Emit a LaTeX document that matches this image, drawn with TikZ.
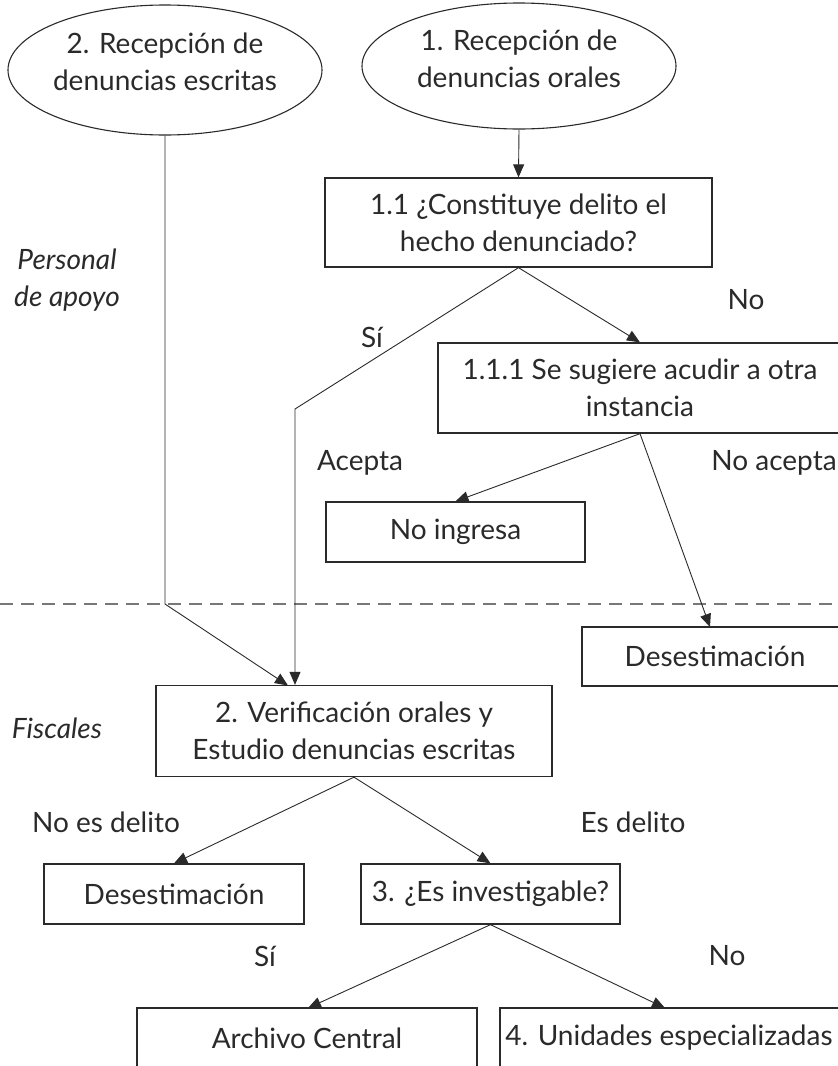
\documentclass[tikz,border=0pt]{standalone}
\usepackage{fontspec}
\setmainfont{Lato}
\usetikzlibrary{arrows.meta,shapes.geometric}
\definecolor{ink}{HTML}{2A2A2A}
\definecolor{dashgray}{HTML}{777777}
\tikzset{
  txt/.style={font=\fontsize{28}{37}\selectfont, text=ink, align=center, inner sep=0pt},
  ell/.style={txt, draw=ink, line width=1.1pt, ellipse, minimum width=314pt, minimum height=130pt},
  box/.style={txt, draw=ink, line width=1.3pt, rectangle, minimum height=#1},
  box/.default=90pt,
  conn/.style={draw=ink, line width=0.9pt},
  arr/.style={conn, -{Triangle[length=13pt,width=11pt]}},
  lbl/.style={txt},
  side/.style={txt, font=\fontsize{28}{37}\selectfont\itshape},
}
\begin{document}
\begin{tikzpicture}[x=1pt,y=-1pt]
\useasboundingbox (0,0) rectangle (838,1066);
\clip (0,0) rectangle (838,1066);
% ellipses
\node[ell] (eL) at (165,70) {};
\node[txt] (eLt) at (165,62) {2. Recepción de\\denuncias escritas};
\node[ell, minimum height=126pt] (eR) at (519,66) {};
\node[txt] (eRt) at (519,59) {1. Recepción de\\denuncias orales};
% boxes
\node[box=89pt, minimum width=387pt] (b11) at (518.5,222.5) {1.1 ¿Constituye delito el\\hecho denunciado?};
\node[box=90pt, minimum width=404pt] (b111) at (640,388) {1.1.1 Se sugiere acudir a otra\\instancia};
\node[box=60pt, minimum width=259pt] (bni) at (455.5,532) {No ingresa};
\node[box=59pt, minimum width=266pt] (bdes1) at (715,656.5) {Desestimación};
\node[box=91pt, minimum width=396pt] (b2) at (354,731) {2. Verificación orales y\\Estudio denuncias escritas};
\node[box=60pt, minimum width=260pt] (bdes2) at (174,894) {Desestimación};
\node[box=60pt, minimum width=259pt] (b3) at (490.5,894) {3. ¿Es investigable?};
\node[box=100pt, minimum width=340pt] (barch) at (307,1058) {};
\node[txt] (barcht) at (307,1038) {Archivo Central};
\node[box=100pt, minimum width=345pt] (buni) at (672.5,1058) {};
\node[txt] (bunit) at (669,1038) {4. Unidades especializadas};
% labels
\node[side] (lpers) at (67,280) {Personal\\de apoyo};
\node[side] (lfisc) at (57,728) {Fiscales};
\node[lbl] (lno1) at (746,300) {No};
\node[lbl] (lsi1) at (372,337) {Sí};
\node[lbl] (lacep) at (360,463) {Acepta};
\node[lbl] (lnoac) at (774,463) {No acepta};
\node[lbl] (lnod) at (106,822) {No es delito};
\node[lbl] (lesd) at (633,822) {Es delito};
\node[lbl] (lsi2) at (265,956) {Sí};
\node[lbl] (lno2) at (727,956) {No};
% dashed separator
\coordinate (dL) at (0,604);
\coordinate (dR) at (838,604);
\draw[dashgray, line width=1.6pt, dash pattern=on 13pt off 8pt] (dL) -- (dR);
% connectors
\draw[arr] (eR.south) -- (b11.north);
\draw[arr] (b11.south) -- (b111.north);
\coordinate (csi) at (295,409);
\draw[arr] (b11.south) -- (csi) -- (csi |- b2.north);
\coordinate (cL) at (eL.south |- dL);
\coordinate (tL) at (288,685.5);
\draw[arr] (eL.south) -- (cL) -- (tL);
\draw[arr] (b111.south) -- (bni.north);
\coordinate (tD1) at (710,627);
\draw[arr] (b111.south) -- (tD1);
\draw[arr] (b2.south) -- (bdes2.north);
\draw[arr] (b2.south) -- (b3.north);
\coordinate (tA) at (308,1008);
\coordinate (tU) at (665,1008);
\draw[arr] (b3.south) -- (tA);
\draw[arr] (b3.south) -- (tU);
\end{tikzpicture}
\end{document}
